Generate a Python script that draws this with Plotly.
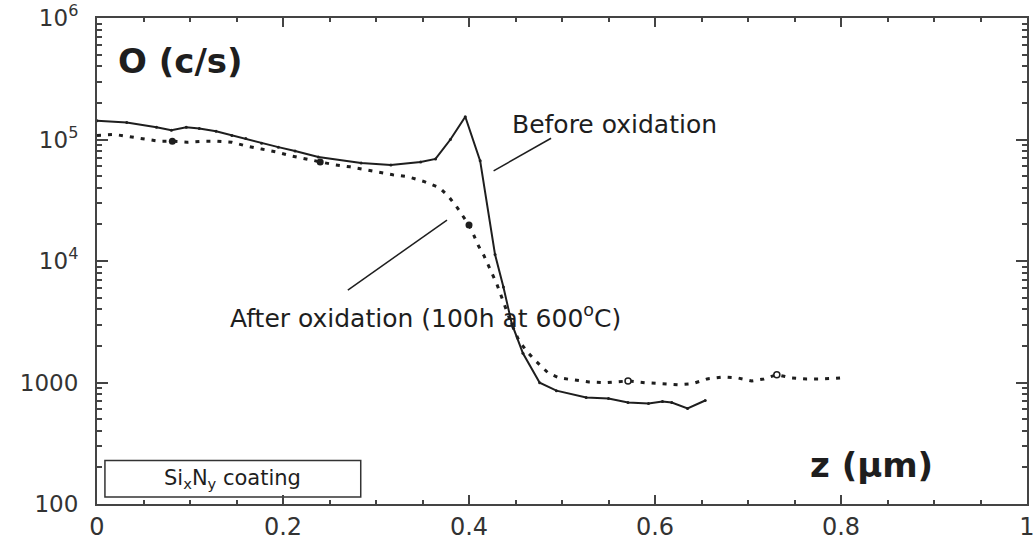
import plotly.graph_objects as go

# ---- data ----
before_z = [0.000, 0.032, 0.064, 0.080, 0.096, 0.110, 0.128, 0.145, 0.160, 0.177,
            0.195, 0.213, 0.238, 0.284, 0.316, 0.348, 0.364, 0.380, 0.396, 0.412,
            0.428, 0.437, 0.446, 0.458, 0.476, 0.494, 0.526, 0.550, 0.571, 0.593,
            0.608, 0.618, 0.635, 0.654]
before_o = [143000, 138000, 126000, 119000, 126000, 123000, 117000, 108000, 102000, 93000,
            86500, 80300, 71800, 64100, 61800, 65300, 69200, 100000, 154000, 66700,
            11300, 6100, 3050, 1740, 995, 857, 752, 738, 685, 673,
            698, 685, 612, 711]

after_z = [0.000, 0.019, 0.033, 0.049, 0.067, 0.081, 0.097, 0.113, 0.129, 0.145,
           0.161, 0.177, 0.193, 0.209, 0.240, 0.256, 0.272, 0.288, 0.302, 0.318,
           0.334, 0.352, 0.368, 0.378, 0.387, 0.394, 0.400, 0.405, 0.410, 0.416,
           0.421, 0.426, 0.430, 0.437, 0.446, 0.454, 0.464, 0.472, 0.485, 0.497,
           0.515, 0.529, 0.547, 0.571, 0.590, 0.608, 0.625, 0.640, 0.656, 0.673,
           0.689, 0.704, 0.717, 0.731, 0.747, 0.763, 0.781, 0.800]
after_o = [108000, 110000, 106000, 102000, 96800, 96800, 95000, 96800, 96800, 95000,
           88200, 83400, 78900, 73200, 65300, 61800, 59600, 56300, 54200, 51300,
           49400, 45000, 40200, 34000, 27700, 23400, 19800, 16400, 13400, 11100,
           9190, 7630, 6440, 4600, 3000, 2180, 1740, 1500, 1200, 1090,
           1050, 1010, 995, 1030, 995, 977, 959, 977, 1070, 1110,
           1090, 1030, 1070, 1160, 1090, 1070, 1070, 1090]

big_dot_z = [0.081, 0.240, 0.400]
big_dot_o = [96800, 65300, 19800]
ring_z = [0.571, 0.731]
ring_o = [1030, 1160]

x_ticks = [0, 0.2, 0.4, 0.6, 0.8, 1.0]
x_ticktext = ["0", "0.2", "0.4", "0.6", "0.8", "1"]
y_ticks = [100, 1000, 1e4, 1e5, 1e6]
y_ticktext = ["100", "1000", "10<sup>4</sup>", "10<sup>5</sup>", "10<sup>6</sup>"]
y_minor = [m * 10 ** k for k in range(2, 6) for m in range(2, 10)]
x_minor = [round(i * 0.05, 2) for i in range(21) if i % 4 != 0]

INK = "#1e1e1e"
AXIS = "#444444"
FONT = "DejaVu Sans"

fig = go.Figure()
fig.add_trace(go.Scatter(x=before_z, y=before_o, mode="lines+markers",
                         line=dict(color=INK, width=2),
                         marker=dict(size=3, color=INK), showlegend=False))
fig.add_trace(go.Scatter(x=after_z, y=after_o, mode="lines",
                         line=dict(color=INK, width=3, dash="4px,7px"),
                         showlegend=False))
fig.add_trace(go.Scatter(x=big_dot_z, y=big_dot_o, mode="markers",
                         marker=dict(size=7, color=INK), showlegend=False))
fig.add_trace(go.Scatter(x=ring_z, y=ring_o, mode="markers",
                         marker=dict(size=6, color="white", line=dict(color=INK, width=1.5)),
                         showlegend=False))

W, H = 1036, 542
L, R, T, B = 97, 1, 17, 32
pw, ph = W - L - R, H - T - B


def px(xp):
    return (xp - L) / pw


def py(yp):
    return (H - B - yp) / ph


fig.update_layout(
    width=W, height=H,
    margin=dict(l=L, r=R, t=T, b=B),
    paper_bgcolor="white", plot_bgcolor="white",
    font=dict(family=FONT, color=INK, size=22),
    xaxis=dict(range=[0, 1], tickmode="array", tickvals=x_ticks, ticktext=x_ticktext,
               ticks="inside", ticklen=9, tickwidth=2, tickcolor=AXIS,
               minor=dict(tickmode="array", tickvals=x_minor, ticks="inside", ticklen=4,
                          tickcolor=AXIS, tickwidth=2),
               showline=True, linecolor=AXIS, linewidth=2, mirror="allticks",
               showgrid=False, zeroline=False, ticklabeloverflow="allow",
               tickfont=dict(family=FONT, size=24, color="#333")),
    yaxis=dict(type="log", range=[2, 6], tickmode="array", tickvals=y_ticks, ticktext=y_ticktext,
               ticks="inside", ticklen=11, tickwidth=2, tickcolor=AXIS,
               minor=dict(tickmode="array", tickvals=y_minor, ticks="inside", ticklen=5,
                          tickcolor=AXIS, tickwidth=2),
               showline=True, linecolor=AXIS, linewidth=2, mirror="allticks",
               showgrid=False, zeroline=False, ticklabelstandoff=12, ticklabeloverflow="allow",
               tickfont=dict(family=FONT, size=23, color="#333")),
)

ann = [
    ("<b>O (c/s)</b>", 181, 61, 34),
    ("<b>z (µm)</b>", 878, 470, 34),
    ("Before oxidation", 619, 125, 25),
    ("After oxidation (100h at 600<sup>o</sup>C)", 428, 320, 25),
    ("Si<sub>x</sub>N<sub>y</sub> coating", 234, 485, 21),
]
for text, xp, yp, size in ann:
    fig.add_annotation(text=text, x=px(xp), y=py(yp), xref="paper", yref="paper",
                       showarrow=False, xanchor="center", yanchor="middle",
                       font=dict(family=FONT, size=size, color=INK))

# pointer lines and coating box
fig.add_shape(type="line", xref="paper", yref="paper",
              x0=px(497), y0=py(172), x1=px(555), y1=py(139),
              line=dict(color=INK, width=1.5))
fig.add_shape(type="line", xref="paper", yref="paper",
              x0=px(350), y0=py(293), x1=px(450), y1=py(222),
              line=dict(color=INK, width=1.5))
fig.add_shape(type="rect", xref="paper", yref="paper",
              x0=px(105), y0=py(503), x1=px(363), y1=py(466),
              line=dict(color="#333", width=1.5), fillcolor="white", layer="below")

fig.write_html("out.html")
